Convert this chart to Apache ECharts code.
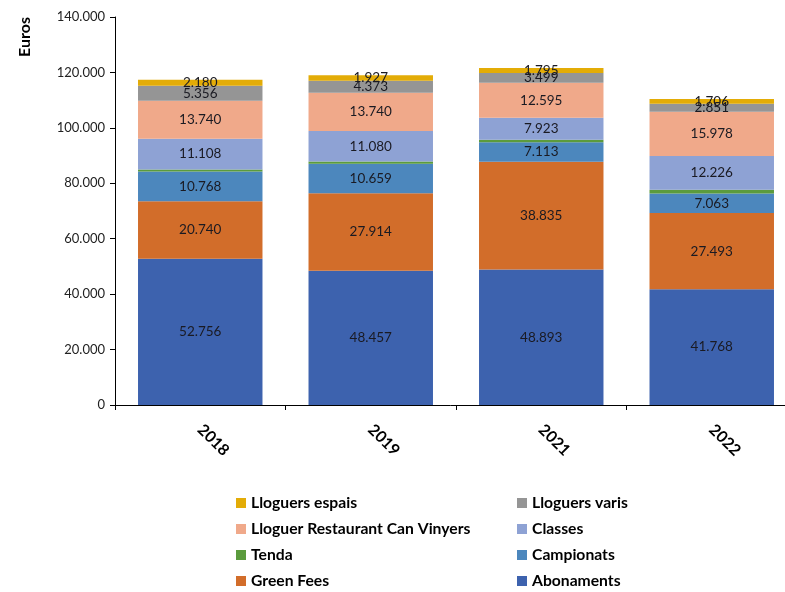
<!DOCTYPE html>
<html><head><meta charset="utf-8">
<script src="https://cdn.jsdelivr.net/npm/echarts@6/dist/echarts.min.js"></script>
<style>html,body{margin:0;padding:0;background:#fff}#c{width:785px;height:592px}</style>
</head><body><div id="c"></div>
<script>
const years = ['2018','2019','2021','2022'];
const abonaments = [52756, 48457, 48893, 41768];
const greenFees = [20740, 27914, 38835, 27493];
const campionats = [10768, 10659, 7113, 7063];
const tenda = [700, 800, 900, 1300];
const classes = [11108, 11080, 7923, 12226];
const restaurant = [13740, 13740, 12595, 15978];
const lloguersVaris = [5356, 4373, 3499, 2851];
const lloguersEspais = [2180, 1927, 1795, 1706];
const yTicks = [0, 20000, 40000, 60000, 80000, 100000, 120000, 140000];

function fmt(v){ return String(v).replace(/\B(?=(\d{3})+(?!\d))/g, '.'); }
const FONT = 'Lato';
const defs = [
  ['Abonaments', abonaments, '#3D62AE', true],
  ['Green Fees', greenFees, '#D26D2A', true],
  ['Campionats', campionats, '#4C87BD', true],
  ['Tenda', tenda, '#5B9B3D', false],
  ['Classes', classes, '#8EA2D4', true],
  ['Lloguer Restaurant Can Vinyers', restaurant, '#F0A98A', true],
  ['Lloguers varis', lloguersVaris, '#959595', true],
  ['Lloguers espais', lloguersEspais, '#E3AC07', true]
];
const series = defs.map(d => ({
  name: d[0], type: 'bar', stack: 'total', data: d[1], barCategoryGap: '27%',
  itemStyle: { color: d[2] },
  label: { show: d[3], position: 'inside', color: '#1a1a22', fontFamily: FONT, fontSize: 13.5,
    formatter: p => fmt(p.value) }
}));
const legendCommon = { orient: 'vertical', icon: 'rect', itemWidth: 10, itemHeight: 10, itemGap: 10,
  padding: 0, height: 120,
  textStyle: { fontFamily: FONT, fontWeight: 'bold', fontSize: 15.7, color: '#000', lineHeight: 16 },
  selectedMode: false };
const chart = echarts.init(document.getElementById('c'));
chart.setOption({
  animation: false,
  grid: { left: 115, width: 682, top: 17, height: 388, containLabel: false, outerBoundsMode: 'none' },
  xAxis: { type: 'category', data: years,
    axisLine: { lineStyle: { color: '#000', width: 1 } },
    axisTick: { show: true, length: 5, lineStyle: { color: '#000' } },
    axisLabel: { rotate: -45, margin: 22, color: '#000', fontFamily: FONT, fontWeight: 'bold', fontSize: 16 } },
  yAxis: { type: 'value', min: yTicks[0], max: yTicks[yTicks.length-1], interval: 20000,
    axisLine: { show: true, lineStyle: { color: '#000' } },
    axisTick: { show: true, inside: false, length: 5, lineStyle: { color: '#000' } },
    splitLine: { show: false },
    axisLabel: { color: '#222', fontFamily: FONT, fontSize: 13, margin: 10, formatter: v => fmt(v) } },
  graphic: [{ type: 'text', left: 17, top: 17, rotation: Math.PI/2,
    style: { text: 'Euros', fontFamily: FONT, fontWeight: 'bold', fontSize: 16, fill: '#000' } }],
  legend: [
    Object.assign({}, legendCommon, { left: 236, top: 495, data: ['Lloguers espais','Lloguer Restaurant Can Vinyers','Tenda','Green Fees'] }),
    Object.assign({}, legendCommon, { left: 517, top: 495, data: ['Lloguers varis','Classes','Campionats','Abonaments'] })
  ],
  series: series
});
</script></body></html>
